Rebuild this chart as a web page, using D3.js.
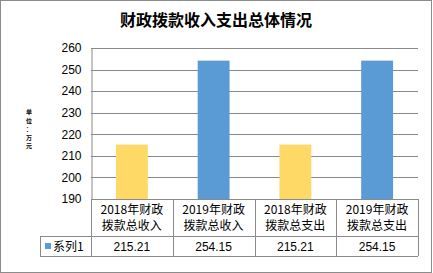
<!DOCTYPE html>
<html>
<head>
<meta charset="utf-8">
<script src="https://cdn.jsdelivr.net/npm/d3@7"></script>
<style>
  body { margin: 0; background: #fff; }
  svg { display: block; font-family: "Noto Sans CJK SC", "Noto Sans", sans-serif; }
</style>
</head>
<body>
<div id="chart"></div>
<script>
(function() {
  'use strict';

  var title = "财政拨款收入支出总体情况";
  var categories = ["2018年财政\n拨款总收入", "2019年财政\n拨款总收入", "2018年财政\n拨款总支出", "2019年财政\n拨款总支出"];
  var values = [215.21, 254.15, 215.21, 254.15];
  var barColors = ["#ffd966", "#5b9bd5", "#ffd966", "#5b9bd5"];
  var seriesName = "系列1";
  var yTicks = [190, 200, 210, 220, 230, 240, 250, 260];
  var yUnit = "单位：万元";

  var width = 433, height = 273;
  var plot = { left: 91, right: 418, top: 48, bottom: 199 };
  var table = { labelLeft: 40, headBottom: 236, rowBottom: 256 };
  var gridColor = "#8a8a8a";

  var svg = d3.select("#chart").append("svg")
    .attr("width", width)
    .attr("height", height);

  // outer frame
  svg.append("rect")
    .attr("x", 0.5).attr("y", 0.5)
    .attr("width", width - 2).attr("height", height - 1)
    .attr("fill", "#fff")
    .attr("stroke", "#8c8c8c");

  svg.append("text")
    .attr("x", 216)
    .attr("y", 26)
    .attr("text-anchor", "middle")
    .attr("font-size", "16px")
    .attr("font-weight", "bold")
    .attr("fill", "#000")
    .text(title);

  var x = d3.scaleBand()
    .domain(categories)
    .range([plot.left, plot.right])
    .paddingInner(0.61)
    .paddingOuter(0.305);

  var col = d3.scaleBand()
    .domain(categories)
    .range([plot.left, plot.right]);

  var y = d3.scaleLinear()
    .domain([190, 260])
    .range([plot.bottom, plot.top]);

  // gridlines
  svg.append("g")
    .selectAll("line")
    .data(yTicks.slice(1))
    .join("line")
    .attr("x1", plot.left)
    .attr("x2", plot.right)
    .attr("y1", function(d) { return Math.round(y(d)) + 0.5; })
    .attr("y2", function(d) { return Math.round(y(d)) + 0.5; })
    .attr("stroke", gridColor);

  // y axis
  var yAxis = svg.append("g")
    .attr("transform", "translate(" + (plot.left + 0.5) + ",0)")
    .call(d3.axisLeft(y).tickValues(yTicks).tickSize(0).tickPadding(10));
  yAxis.select(".domain").attr("stroke", gridColor);
  yAxis.selectAll("text")
    .attr("font-size", "12px")
    .attr("fill", "#000")
    .attr("font-family", "'Liberation Sans', sans-serif");

  // unit label, characters stacked one per line
  svg.append("text")
    .attr("text-anchor", "middle")
    .attr("font-size", "6px")
    .attr("font-weight", "bold")
    .attr("fill", "#000")
    .selectAll("tspan")
    .data(yUnit.split(""))
    .join("tspan")
    .attr("x", 29)
    .attr("y", function(d, i) { return 114 + i * 8.5; })
    .text(function(d) { return d; });

  // bars
  svg.append("g")
    .selectAll("rect")
    .data(values)
    .join("rect")
    .attr("x", function(d, i) { return x(categories[i]); })
    .attr("width", x.bandwidth())
    .attr("y", function(d) { return y(d); })
    .attr("height", function(d) { return plot.bottom - y(d); })
    .attr("fill", function(d, i) { return barColors[i]; });

  // data table
  var tbl = svg.append("g").attr("stroke", gridColor).attr("fill", "none");
  tbl.append("line")
    .attr("x1", plot.left).attr("x2", plot.right)
    .attr("y1", plot.bottom + 0.5).attr("y2", plot.bottom + 0.5);
  tbl.append("line")
    .attr("x1", table.labelLeft).attr("x2", plot.right)
    .attr("y1", table.headBottom + 0.5).attr("y2", table.headBottom + 0.5);
  tbl.append("line")
    .attr("x1", table.labelLeft).attr("x2", plot.right)
    .attr("y1", table.rowBottom + 0.5).attr("y2", table.rowBottom + 0.5);
  tbl.append("line")
    .attr("x1", table.labelLeft + 0.5).attr("x2", table.labelLeft + 0.5)
    .attr("y1", table.headBottom).attr("y2", table.rowBottom);
  tbl.selectAll("line.col")
    .data(categories.concat(["end"]))
    .join("line")
    .attr("class", "col")
    .attr("x1", function(d, i) { return Math.round(plot.left + i * col.bandwidth()) + 0.5; })
    .attr("x2", function(d, i) { return Math.round(plot.left + i * col.bandwidth()) + 0.5; })
    .attr("y1", plot.bottom)
    .attr("y2", table.rowBottom);

  // header cells
  var head = svg.append("g")
    .selectAll("text")
    .data(categories)
    .join("text")
    .attr("x", function(d) { return col(d) + col.bandwidth() / 2; })
    .attr("y", 214)
    .attr("text-anchor", "middle")
    .attr("font-size", "12px")
    .attr("fill", "#000");
  head.selectAll("tspan")
    .data(function(d) { return d.split("\n"); })
    .join("tspan")
    .attr("x", function() { return d3.select(this.parentNode).attr("x"); })
    .attr("dy", function(d, i) { return i ? 16 : 0; })
    .text(function(d) { return d; });

  // value row
  svg.append("g")
    .selectAll("text")
    .data(values)
    .join("text")
    .attr("x", function(d, i) { return col(categories[i]) + col.bandwidth() / 2; })
    .attr("y", 251)
    .attr("text-anchor", "middle")
    .attr("font-size", "12px")
    .attr("fill", "#000")
    .attr("font-family", "'Liberation Sans', sans-serif")
    .text(function(d) { return d3.format(".2f")(d); });

  // series label with legend key
  svg.append("rect")
    .attr("x", 45).attr("y", 243)
    .attr("width", 6).attr("height", 6)
    .attr("fill", "#5b9bd5");
  svg.append("text")
    .attr("x", 53)
    .attr("y", 251)
    .attr("font-size", "12px")
    .attr("fill", "#000")
    .text(seriesName);
}());
</script>
</body>
</html>
